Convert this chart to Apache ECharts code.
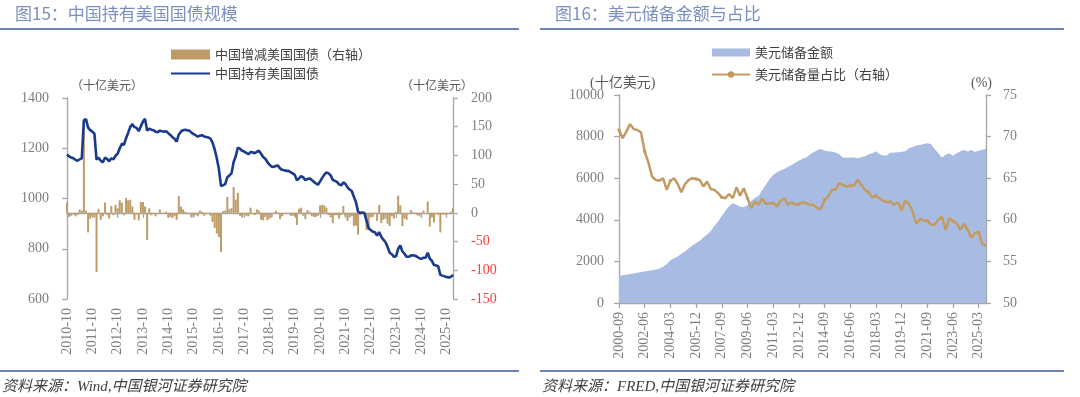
<!DOCTYPE html>
<html><head><meta charset="utf-8">
<script src="https://cdn.jsdelivr.net/npm/echarts@6/dist/echarts.min.js"></script>
<style>html,body{margin:0;padding:0;background:#fff}#c{width:1080px;height:397px}</style>
</head><body><div id="c"></div>
<script>
// ---------- Left chart: China's holdings of US Treasuries (monthly, 2010-10 .. 2026-01) ----------
const holdStart = [2010, 10];
const holdCount = 184;
const holdings = [
1175,1168,1163,
1160,1154,1150,1156,1160,1312,1316,1282,1272,1266,1258,1155,
1162,1150,1144,1162,1158,1148,1160,1156,1170,1178,1200,1218,
1214,1240,1262,1285,1296,1284,1281,1268,1287,1306,1317,1270,
1278,1274,1272,1266,1264,1270,1268,1266,1268,1260,1253,1244,
1238,1226,1255,1266,1272,1274,1272,1270,1262,1256,1252,1246,
1250,1252,1247,1245,1243,1238,1222,1196,1160,1118,1050,1053,
1057,1085,1092,1100,1145,1168,1203,1198,1190,1187,1182,1176,
1185,1184,1180,1186,1190,1178,1165,1158,1145,1135,1127,1126,
1130,1131,1120,1114,1112,1110,1110,1105,1100,1094,1073,1080,
1089,1084,1073,1078,1080,1074,1067,1060,1055,1068,1082,1095,
1104,1100,1092,1074,1070,1066,1056,1052,1064,1058,1044,1036,
1030,1007,985,947,943,944,942,912,882,875,868,866,
852,866,848,836,826,807,784,778,768,770,800,813,
790,780,768,768,773,774,772,768,762,760,764,764,
784,760,752,735,733,730,696,693,690,687,686,688,
696
];
const holdChange = [
18,-7,-5,
-3,-6,-4,6,4,152,4,-34,-10,-6,-8,-103,
7,-12,-6,18,-4,-10,12,-4,14,8,22,18,
-4,26,22,23,11,-12,-3,-13,19,19,11,-47,
8,-4,-2,-6,-2,6,-2,-2,2,-8,-7,-9,
-6,-12,29,11,6,2,-2,-2,-8,-6,-4,-6,
4,2,-5,-2,-2,-5,-16,-26,-36,-42,-68,3,
4,28,7,8,45,23,35,-5,-8,-3,-5,-6,
9,-1,-4,6,4,-12,-13,-7,-13,-10,-8,-1,
4,1,-11,-6,-2,-2,0,-5,-5,-6,-21,7,
9,-5,-11,5,2,-6,-7,-7,-5,13,14,13,
9,-4,-8,-18,-4,-4,-10,-4,12,-6,-14,-8,
-6,-23,-22,-38,-4,1,-2,-30,-30,-7,-7,-2,
-14,14,-18,-12,-10,-19,-23,-6,-10,2,30,13,
-23,-10,-12,0,5,1,-2,-4,-6,-2,4,0,
20,-24,-8,-17,-2,-3,-34,-3,-3,-3,-1,2,
8
];
const holdMonths = [];
for (let i = 0; i < holdCount; i++) {
  const m0 = holdStart[1] - 1 + i;
  const y = holdStart[0] + Math.floor(m0 / 12);
  const m = (m0 % 12) + 1;
  holdMonths.push(y + '-' + (m < 10 ? '0' + m : m));
}

// ---------- Right chart: USD reserves amount & share (quarterly, 2000-09 .. 2025-09) ----------
const resStart = [2000, 9];
const resCount = 101;
const usdReserves = [
1310,1340,1360,1390,1420,1460,1490,1520,1545,1570,
1600,1660,1740,1860,2060,2150,2230,2370,2480,2630,
2760,2880,2990,3150,3290,3460,3700,3920,4180,4430,
4660,4800,4720,4630,4610,4700,4900,5050,5150,5420,
5680,5950,6150,6290,6370,6440,6540,6620,6740,6840,
6930,7000,7140,7250,7340,7400,7330,7290,7280,7230,
7150,7000,6980,6990,7000,6960,7010,7060,7150,7200,
7290,7150,7090,7100,7220,7240,7250,7270,7300,7440,
7500,7570,7600,7640,7680,7640,7400,7200,6990,7130,
7200,7080,7200,7300,7350,7280,7360,7260,7320,7370,
7410
];
const usdShare = [
70.8,69.8,70.6,71.5,70.9,70.8,70.5,68.2,66.9,65.2,
64.8,64.7,65.0,63.6,64.7,65.0,64.3,63.3,64.3,64.8,
65.0,64.9,64.8,64.0,64.6,63.7,63.6,63.2,62.7,62.6,
63.1,62.6,63.9,62.9,63.8,62.6,61.4,62.2,61.8,62.6,
61.9,62.0,62.0,61.6,62.3,62.6,61.8,62.1,61.8,61.9,
62.1,62.0,61.8,61.8,61.4,61.3,62.4,62.8,63.6,63.6,
64.4,64.2,64.0,64.1,64.1,64.8,64.2,63.6,63.3,62.7,
62.9,62.6,62.3,62.1,62.2,61.8,62.1,61.2,62.3,61.9,
61.0,59.5,60.1,59.9,59.9,59.4,59.4,60.0,60.4,58.8,
60.2,59.8,59.6,58.8,59.5,58.8,57.8,58.4,58.5,57.1,
56.9
];
const resQuarters = [];
for (let i = 0; i < resCount; i++) {
  const m0 = resStart[1] - 1 + i * 3;
  const y = resStart[0] + Math.floor(m0 / 12);
  const m = (m0 % 12) + 1;
  resQuarters.push(y + '-' + (m < 10 ? '0' + m : m));
}

const SERIF = '"Liberation Serif","Times New Roman",serif';
const SERIF_CJK = '"Liberation Serif","Noto Sans CJK SC",serif';
const CJK = '"Noto Sans CJK SC","Noto Sans",sans-serif';
const axisGrey = '#A6A6A6';
const labelGrey = '#7F7F7F';
const plain = function (v) { return String(v); };

function yAx(opts, lab) {
  return Object.assign({
    type: 'value',
    axisLine: { show: true, lineStyle: { color: axisGrey, width: 1.3 } },
    axisTick: { show: true, length: 5, lineStyle: { color: axisGrey, width: 1.3 } },
    splitLine: { show: false },
    axisLabel: Object.assign({ fontFamily: SERIF, fontSize: 14, color: labelGrey, margin: 18, formatter: plain }, lab || {})
  }, opts);
}
function xAx(opts, every) {
  return Object.assign({
    type: 'category',
    boundaryGap: false,
    axisLine: { lineStyle: { color: axisGrey, width: 1.3 } },
    axisTick: { show: true, interval: every, length: 5, lineStyle: { color: axisGrey, width: 1.3 } },
    axisLabel: { interval: every, rotate: 90, fontFamily: SERIF, fontSize: 14, color: labelGrey, margin: 9 }
  }, opts);
}

const chart = echarts.init(document.getElementById('c'), null, { renderer: 'canvas' });
const titleColor = '#7A90C2';
const ruleColor = '#6C84B7';

chart.setOption({
  animation: false,
  backgroundColor: '#fff',
  graphic: [
    { type: 'text', left: 15, top: 5, style: { text: '图15：中国持有美国国债规模', font: '17px ' + CJK, fill: titleColor } },
    { type: 'text', left: 555, top: 5, style: { text: '图16：美元储备金额与占比', font: '17px ' + CJK, fill: titleColor } },
    { type: 'line', shape: { x1: 0, y1: 29, x2: 519, y2: 29 }, style: { stroke: ruleColor, lineWidth: 2 } },
    { type: 'line', shape: { x1: 540, y1: 29, x2: 1064, y2: 29 }, style: { stroke: ruleColor, lineWidth: 2 } },
    { type: 'line', shape: { x1: 0, y1: 371, x2: 519, y2: 371 }, style: { stroke: ruleColor, lineWidth: 2 } },
    { type: 'line', shape: { x1: 540, y1: 371, x2: 1064, y2: 371 }, style: { stroke: ruleColor, lineWidth: 2 } },
    { type: 'text', left: 2, top: 380, style: { text: '资料来源：Wind,中国银河证券研究院', font: 'italic 15px ' + SERIF_CJK, fill: '#404040' } },
    { type: 'text', left: 542, top: 380, style: { text: '资料来源：FRED,中国银河证券研究院', font: 'italic 15px ' + SERIF_CJK, fill: '#404040' } },
    { type: 'text', left: 71, top: 79, style: { text: '（十亿美元）', font: '12px ' + CJK, fill: '#595959' } },
    { type: 'text', left: 401, top: 79, style: { text: '（十亿美元）', font: '12px ' + CJK, fill: '#595959' } },
    { type: 'text', left: 590, top: 76, style: { text: '(十亿美元)', font: '14px ' + SERIF_CJK, fill: '#595959' } },
    { type: 'text', left: 971, top: 76, style: { text: '(%)', font: '14px ' + SERIF, fill: '#595959' } }
  ],
  legend: [
    {
      left: 165, top: 43, orient: 'vertical', itemWidth: 39, itemHeight: 10, itemGap: 6,
      data: [
        { name: '中国增减美国国债（右轴）', icon: 'rect' },
        { name: '中国持有美国国债', itemStyle: { opacity: 0 } }
      ],
      textStyle: { fontFamily: CJK, fontSize: 13, color: '#404040' }
    },
    {
      left: 706, top: 41, orient: 'vertical', itemWidth: 38, itemHeight: 8, itemGap: 9,
      data: [
        { name: '美元储备金额', icon: 'rect', itemStyle: { color: '#A8BCE3' } },
        { name: '美元储备量占比（右轴）' }
      ],
      textStyle: { fontFamily: CJK, fontSize: 13, color: '#404040' }
    }
  ],
  grid: [
    { left: 67, top: 98, width: 386, height: 201 },
    { left: 619, top: 95, width: 367, height: 208 }
  ],
  xAxis: [
    xAx({ gridIndex: 0, data: holdMonths }, 11),
    xAx({ gridIndex: 1, data: resQuarters }, 6)
  ],
  yAxis: [
    yAx({ gridIndex: 0, min: 600, max: 1400, interval: 200 }),
    yAx({ gridIndex: 0, position: 'right', min: -150, max: 200, interval: 50 },
      { color: function (v) { return Number(v) < 0 ? '#FF3B3B' : labelGrey; } }),
    yAx({ gridIndex: 1, min: 0, max: 10000, interval: 2000 }, { margin: 15 }),
    yAx({ gridIndex: 1, position: 'right', min: 50, max: 75, interval: 5 }, { margin: 17 })
  ],
  series: [
    {
      name: '中国增减美国国债（右轴）', type: 'bar', xAxisIndex: 0, yAxisIndex: 1,
      data: holdChange, barWidth: 2, itemStyle: { color: '#BF9B68' }, z: 2
    },
    {
      name: '中国持有美国国债', type: 'line', xAxisIndex: 0, yAxisIndex: 0,
      data: holdings, showSymbol: false, symbol: 'none',
      lineStyle: { color: '#1A3A8E', width: 2.6 }, itemStyle: { color: '#1A3A8E' }, z: 3
    },
    {
      name: '美元储备金额', type: 'line', xAxisIndex: 1, yAxisIndex: 2,
      data: usdReserves, symbol: 'none', lineStyle: { width: 0 },
      itemStyle: { color: '#A8BCE3' }, areaStyle: { color: '#A8BCE3', opacity: 1 }, z: 2
    },
    {
      name: '美元储备量占比（右轴）', type: 'line', xAxisIndex: 1, yAxisIndex: 3,
      data: usdShare, symbol: 'circle', symbolSize: 3.5, showSymbol: true,
      lineStyle: { color: '#C29B62', width: 2.5 }, itemStyle: { color: '#C29B62' }, z: 3
    }
  ]
});
</script>
</body></html>
